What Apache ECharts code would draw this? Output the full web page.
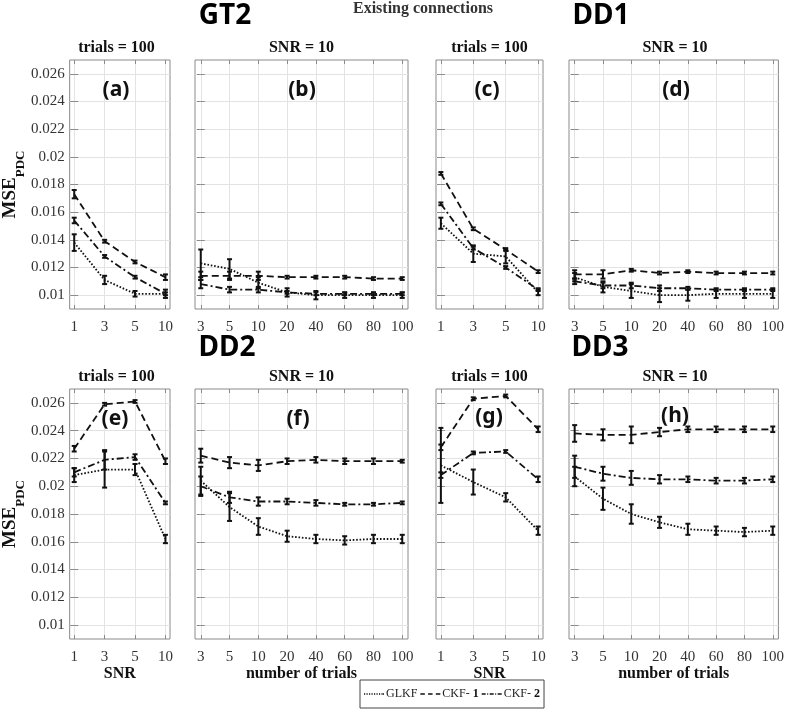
<!DOCTYPE html>
<html>
<head>
<meta charset="utf-8">
<script src="https://cdn.jsdelivr.net/npm/echarts@6/dist/echarts.min.js"></script>
<style>html,body{margin:0;padding:0;background:#fff;}#c{width:787px;height:710px;}</style>
</head>
<body>
<div id="c"></div>
<script>
// ---- tick labels ----
const snrLabels = ['1', '3', '5', '10'];
const trialLabels = ['3', '5', '10', '20', '40', '60', '80', '100'];
const yTicks = [0.01, 0.012, 0.014, 0.016, 0.018, 0.02, 0.022, 0.024, 0.026];

// ---- (a) GT2, trials = 100, vs SNR ----
const a_GLKF = [0.0138, 0.0111, 0.0101, 0.0101];
const a_CKF1 = [0.0173, 0.0139, 0.0124, 0.0113];
const a_CKF2 = [0.0154, 0.0128, 0.0113, 0.0101];
const a_GLKF_err = [0.0006, 0.0003, 0.0002, 0.0003];
const a_CKF1_err = [0.0003, 0.0001, 0.0001, 0.0002];
const a_CKF2_err = [0.0002, 0.0001, 0.0001, 0.0001];
// ---- (b) GT2, SNR = 10, vs trials ----
const b_GLKF = [0.0123, 0.0119, 0.0109, 0.0102, 0.0100, 0.0100, 0.0100, 0.0100];
const b_CKF1 = [0.0114, 0.0114, 0.0114, 0.0113, 0.0113, 0.0113, 0.0112, 0.0112];
const b_CKF2 = [0.0108, 0.0104, 0.0104, 0.0102, 0.0101, 0.0101, 0.0101, 0.0101];
const b_GLKF_err = [0.0010, 0.0007, 0.0004, 0.0003, 0.0003, 0.0002, 0.0002, 0.0002];
const b_CKF1_err = [0.0003, 0.0003, 0.0003, 0.0001, 0.0001, 0.0001, 0.0001, 0.0001];
const b_CKF2_err = [0.0003, 0.0002, 0.0002, 0.0001, 0.0001, 0.0001, 0.0001, 0.0001];
// ---- (c) DD1, trials = 100, vs SNR ----
const c_GLKF = [0.0152, 0.0130, 0.0128, 0.0102];
const c_CKF1 = [0.0188, 0.0148, 0.0133, 0.0117];
const c_CKF2 = [0.0166, 0.0134, 0.0120, 0.0104];
const c_GLKF_err = [0.0004, 0.0006, 0.0005, 0.0002];
const c_CKF1_err = [0.0001, 0.0001, 0.0001, 0.0001];
const c_CKF2_err = [0.0001, 0.0001, 0.0001, 0.0001];
// ---- (d) DD1, SNR = 10, vs trials ----
const d_GLKF = [0.0113, 0.0106, 0.0103, 0.0100, 0.0100, 0.0101, 0.0101, 0.0101];
const d_CKF1 = [0.0115, 0.0115, 0.0118, 0.0116, 0.0117, 0.0116, 0.0116, 0.0116];
const d_CKF2 = [0.0110, 0.0107, 0.0107, 0.0105, 0.0105, 0.0104, 0.0104, 0.0104];
const d_GLKF_err = [0.0003, 0.0004, 0.0005, 0.0005, 0.0004, 0.0003, 0.0003, 0.0003];
const d_CKF1_err = [0.0003, 0.0003, 0.0001, 0.0001, 0.0001, 0.0001, 0.0001, 0.0001];
const d_CKF2_err = [0.0002, 0.0002, 0.0002, 0.0002, 0.0001, 0.0001, 0.0001, 0.0001];
// ---- (e) DD2, trials = 100, vs SNR ----
const e_GLKF = [0.0208, 0.0212, 0.0212, 0.0162];
const e_CKF1 = [0.0227, 0.0259, 0.0261, 0.0218];
const e_CKF2 = [0.0210, 0.0219, 0.0221, 0.0188];
const e_GLKF_err = [0.0005, 0.0013, 0.0004, 0.0003];
const e_CKF1_err = [0.0002, 0.0001, 0.0001, 0.0002];
const e_CKF2_err = [0.0003, 0.0007, 0.0002, 0.0001];
// ---- (f) DD2, SNR = 10, vs trials ----
const f_GLKF = [0.0204, 0.0185, 0.0171, 0.0164, 0.0162, 0.0161, 0.0162, 0.0162];
const f_CKF1 = [0.0222, 0.0217, 0.0215, 0.0218, 0.0219, 0.0218, 0.0218, 0.0218];
const f_CKF2 = [0.0200, 0.0192, 0.0189, 0.0189, 0.0188, 0.0187, 0.0187, 0.0188];
const f_GLKF_err = [0.0010, 0.0010, 0.0006, 0.0004, 0.0003, 0.0003, 0.0003, 0.0003];
const f_CKF1_err = [0.0005, 0.0004, 0.0004, 0.0002, 0.0002, 0.0002, 0.0002, 0.0001];
const f_CKF2_err = [0.0007, 0.0004, 0.0003, 0.0002, 0.0002, 0.0001, 0.0001, 0.0001];
// ---- (g) DD3, trials = 100, vs SNR ----
const g_GLKF = [0.0215, 0.0203, 0.0192, 0.0168];
const g_CKF1 = [0.0228, 0.0263, 0.0265, 0.0241];
const g_CKF2 = [0.0208, 0.0224, 0.0225, 0.0205];
const g_GLKF_err = [0.0027, 0.0009, 0.0003, 0.0003];
const g_CKF1_err = [0.0002, 0.0001, 0.0001, 0.0002];
const g_CKF2_err = [0.0002, 0.0001, 0.0001, 0.0002];
// ---- (h) DD3, SNR = 10, vs trials ----
const h_GLKF = [0.0207, 0.0191, 0.0180, 0.0174, 0.0169, 0.0168, 0.0167, 0.0168];
const h_CKF1 = [0.0238, 0.0237, 0.0237, 0.0239, 0.0241, 0.0241, 0.0241, 0.0241];
const h_CKF2 = [0.0214, 0.0209, 0.0206, 0.0205, 0.0205, 0.0204, 0.0204, 0.0205];
const h_GLKF_err = [0.0007, 0.0008, 0.0007, 0.0004, 0.0004, 0.0003, 0.0003, 0.0003];
const h_CKF1_err = [0.0006, 0.0004, 0.0006, 0.0003, 0.0002, 0.0002, 0.0002, 0.0002];
const h_CKF2_err = [0.0008, 0.0005, 0.0005, 0.0003, 0.0002, 0.0002, 0.0002, 0.0002];

const panels = [
  { L: '(a)', sub: 'trials = 100', x: 'snr', g: [63, 60, 107, 249], lab: [116, 90], ylab: true, xname: '', s: [a_GLKF, a_CKF1, a_CKF2], e: [a_GLKF_err, a_CKF1_err, a_CKF2_err] },
  { L: '(b)', sub: 'SNR = 10', x: 'tr', g: [195, 60, 213, 249], lab: [302, 90], ylab: false, xname: '', s: [b_GLKF, b_CKF1, b_CKF2], e: [b_GLKF_err, b_CKF1_err, b_CKF2_err] },
  { L: '(c)', sub: 'trials = 100', x: 'snr', g: [436, 60, 107, 249], lab: [487, 90], ylab: false, xname: '', s: [c_GLKF, c_CKF1, c_CKF2], e: [c_GLKF_err, c_CKF1_err, c_CKF2_err] },
  { L: '(d)', sub: 'SNR = 10', x: 'tr', g: [569, 60, 212, 249], lab: [676, 90], ylab: false, xname: '', s: [d_GLKF, d_CKF1, d_CKF2], e: [d_GLKF_err, d_CKF1_err, d_CKF2_err] },
  { L: '(e)', sub: 'trials = 100', x: 'snr', g: [63, 389, 107, 250], lab: [115, 419], ylab: true, xname: 'SNR', s: [e_GLKF, e_CKF1, e_CKF2], e: [e_GLKF_err, e_CKF1_err, e_CKF2_err] },
  { L: '(f)', sub: 'SNR = 10', x: 'tr', g: [195, 389, 213, 250], lab: [298, 419], ylab: false, xname: 'number of trials', s: [f_GLKF, f_CKF1, f_CKF2], e: [f_GLKF_err, f_CKF1_err, f_CKF2_err] },
  { L: '(g)', sub: 'trials = 100', x: 'snr', g: [436, 389, 107, 250], lab: [489, 417], ylab: false, xname: 'SNR', s: [g_GLKF, g_CKF1, g_CKF2], e: [g_GLKF_err, g_CKF1_err, g_CKF2_err] },
  { L: '(h)', sub: 'SNR = 10', x: 'tr', g: [569, 389, 212, 250], lab: [675, 416], ylab: false, xname: 'number of trials', s: [h_GLKF, h_CKF1, h_CKF2], e: [h_GLKF_err, h_CKF1_err, h_CKF2_err] }
];

const names = ['GLKF', 'CKF-1', 'CKF-2'];
const dashes = [[1.6, 1.8], [7, 4], [7, 3, 2, 3]];
// legend icon segment patterns (x ranges within a 20px-wide sample)
const iconSegs = [
  [[0, 1.2], [2.5, 3.7], [5, 6.2], [7.5, 8.7], [10, 11.2], [12.5, 13.7], [15, 16.2], [17.5, 18.7], [19, 20]],
  [[0, 4.5], [7.75, 12.25], [15.5, 20]],
  [[0, 4], [5.5, 6.5], [8, 12], [13.5, 14.5], [16, 20]]
];
const iconPath = segs => 'path://' + segs.map(s => 'M' + s[0] + ',0H' + s[1] + 'V1.6H' + s[0] + 'Z').join(' ');

const SERIF = '"Liberation Serif", "DejaVu Serif", serif';
const SANS = '"Noto Sans", "Open Sans", sans-serif';
const INK = '#111';
const BOX = '#8a8a8a';

const grid = [], xAxis = [], yAxis = [], series = [], graphic = [];

panels.forEach((p, i) => {
  grid.push({ left: p.g[0], top: p.g[1], width: p.g[2], height: p.g[3], show: true, borderColor: BOX, borderWidth: 1, backgroundColor: '#fff', containLabel: false });
  const labels = p.x === 'snr' ? snrLabels : trialLabels;
  const n = labels.length;
  const pad = p.x === 'snr' ? 0.15 : 0.2;
  const idx = labels.map((_, k) => k);
  const xBase = {
    type: 'value', gridIndex: i, min: -pad, max: n - 1 + pad,
    axisLine: { show: false },
    axisTick: { show: true, inside: true, length: 4, customValues: idx, lineStyle: { color: BOX } }
  };
  xAxis.push(Object.assign({}, xBase, {
    position: 'bottom',
    axisLabel: { show: true, customValues: idx, margin: 11, fontFamily: SERIF, fontSize: 15, color: '#333', formatter: v => labels[Math.round(v)] },
    splitLine: { show: true, lineStyle: { color: '#e3e3e3', width: 1 } },
    name: p.xname, nameLocation: 'middle', nameGap: 27,
    nameTextStyle: { fontFamily: SERIF, fontSize: 16, fontWeight: 'bold', color: INK }
  }));
  xAxis.push(Object.assign({}, xBase, {
    position: 'top', axisLabel: { show: false }, splitLine: { show: false }
  }));
  const yBase = {
    type: 'value', gridIndex: i, min: 0.009, max: 0.027,
    axisLine: { show: false },
    axisTick: { show: true, inside: true, length: 4, customValues: yTicks, lineStyle: { color: BOX } }
  };
  yAxis.push(Object.assign({}, yBase, {
    position: 'left',
    axisLabel: { show: p.ylab, customValues: yTicks, margin: 5, fontFamily: SERIF, fontSize: 15, color: '#333', formatter: v => String(parseFloat(v.toFixed(4))) },
    splitLine: { show: true, lineStyle: { color: '#e3e3e3', width: 1 } },
    name: p.ylab ? '{a|MSE}{b|PDC}' : '', nameLocation: 'middle', nameRotate: 90, nameGap: 38,
    nameTextStyle: {
      rich: {
        a: { fontFamily: SERIF, fontSize: 19, fontWeight: 'bold', color: INK, lineHeight: 26, verticalAlign: 'top' },
        b: { fontFamily: SERIF, fontSize: 13, fontWeight: 'bold', color: INK, lineHeight: 12, verticalAlign: 'bottom' }
      }
    }
  }));
  yAxis.push(Object.assign({}, yBase, {
    position: 'right', axisLabel: { show: false }, splitLine: { show: false }
  }));
  const xi = i * 2, yi = i * 2;
  p.s.forEach((vals, k) => {
    series.push({
      type: 'line', name: names[k], xAxisIndex: xi, yAxisIndex: yi,
      data: vals.map((v, j) => [j, v]),
      symbol: 'none', showSymbol: false, silent: true, z: 3,
      lineStyle: { color: INK, width: 1.8, type: dashes[k] },
      itemStyle: { color: INK }
    });
  });
  const eb = [];
  p.s.forEach((vals, k) => {
    vals.forEach((v, j) => { eb.push([j, v - p.e[k][j], v + p.e[k][j]]); });
  });
  series.push({
    type: 'custom', xAxisIndex: xi, yAxisIndex: yi, silent: true, z: 4,
    encode: { x: 0, y: [1, 2] },
    data: eb,
    renderItem: function (params, api) {
      const x = api.value(0), lo = api.value(1), hi = api.value(2);
      const pt = api.coord([x, hi]), pb = api.coord([x, lo]);
      const w = 2.5;
      const st = { stroke: INK, lineWidth: 2 };
      return {
        type: 'group', children: [
          { type: 'line', shape: { x1: pt[0], y1: pt[1], x2: pb[0], y2: pb[1] }, style: st },
          { type: 'line', shape: { x1: pt[0] - w, y1: pt[1], x2: pt[0] + w, y2: pt[1] }, style: st },
          { type: 'line', shape: { x1: pb[0] - w, y1: pb[1], x2: pb[0] + w, y2: pb[1] }, style: st }
        ]
      };
    }
  });
  // subtitle and panel letter
  graphic.push({ type: 'text', x: p.g[0] + p.g[2] / 2, y: p.g[1] - 12, silent: true,
    style: { text: p.sub, font: 'bold 16px ' + SERIF, fill: INK, textAlign: 'center', textVerticalAlign: 'middle' } });
  graphic.push({ type: 'text', x: p.lab[0], y: p.lab[1], silent: true, z: 10,
    style: { text: p.L, font: 'bold 21px ' + SANS, fill: INK, textAlign: 'center', textVerticalAlign: 'middle' } });
});

// block titles
[['GT2', 225, 16], ['DD1', 601, 16], ['DD2', 227, 348], ['DD3', 600, 348]].forEach(t => {
  graphic.push({ type: 'text', x: t[1], y: t[2], silent: true,
    style: { text: t[0], font: 'bold 28px ' + SANS, fill: '#000', textAlign: 'center', textVerticalAlign: 'middle' } });
});
graphic.push({ type: 'text', x: 423, y: 9, silent: true,
  style: { text: 'Existing connections', font: 'bold 16px ' + SERIF, fill: '#333', textAlign: 'center', textVerticalAlign: 'middle' } });

const chart = echarts.init(document.getElementById('c'), null, { renderer: 'canvas' });
chart.setOption({
  animation: false,
  backgroundColor: '#fff',
  grid, xAxis, yAxis, series, graphic,
  legend: {
    data: names.map((nm, k) => ({ name: nm, icon: iconPath(iconSegs[k]), itemStyle: { color: INK, borderWidth: 0 } })),
    left: 360, top: 680, orient: 'horizontal',
    itemWidth: 20, itemHeight: 1.6, itemGap: 3, padding: [8, 4],
    borderColor: '#444', borderWidth: 1, backgroundColor: '#fff',
    selectedMode: false,
    textStyle: { fontFamily: SERIF, fontSize: 12, color: '#222', padding: [0, 0, 0, -3],
      rich: { b: { fontFamily: SERIF, fontSize: 12, fontWeight: 'bold', color: '#111' } } },
    formatter: nm => nm === 'GLKF' ? 'GLKF' : 'CKF- {b|' + nm.slice(-1) + '}'
  }
});
</script>
</body>
</html>
